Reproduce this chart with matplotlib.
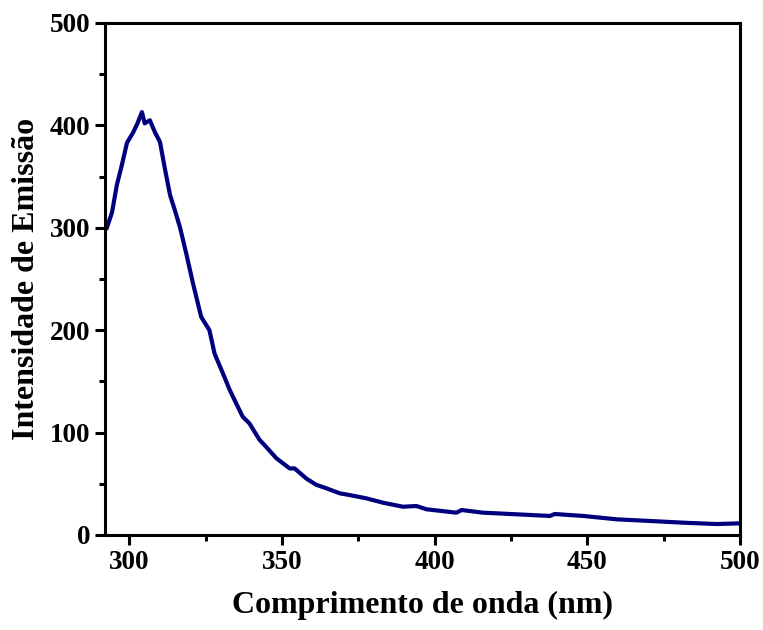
import matplotlib.pyplot as plt
import numpy as np

# Espectro de emissão
comprimento = [292.6, 294.3, 295.9, 297.5, 299.2, 301.2, 302.5, 304.1, 305.0, 306.7,
               308.4, 310.0, 311.6, 313.3, 314.9, 316.6, 318.6, 320.8, 323.5, 326.2,
               327.9, 330.6, 332.8, 334.4, 337.1, 339.3, 342.6, 344.8, 348.1, 352.5,
               354.1, 358.0, 361.2, 364.5, 368.9, 372.1, 377.6, 383.1, 389.6, 394.0,
               397.3, 407.1, 408.8, 415.8, 426.8, 437.7, 439.3, 448.6, 459.6, 470.5,
               481.5, 492.4, 500.0]
intensidade = [300, 315, 342, 361, 383, 393, 401, 413, 402, 405,
               393, 384, 358, 332, 317, 300, 275, 246, 213, 200,
               177, 158, 142, 132, 115.5, 109, 93, 86, 75, 65,
               65, 55, 49, 45.6, 40.7, 39, 35.8, 31.5, 27.6, 28.3,
               25.1, 21.8, 24.4, 21.8, 20.2, 18.6, 20.5, 18.6, 15.3, 13.7,
               12, 10.7, 11.4]

plt.rcParams['font.family'] = ['Liberation Serif', 'DejaVu Serif']
plt.rcParams['font.weight'] = 'bold'

fig = plt.figure(figsize=(7.63, 6.3), dpi=100)
ax = fig.add_axes([0.1376, 0.1508, 0.8324, 0.8127])

ax.plot(comprimento, intensidade, color='#00007f', linewidth=3)

ax.set_xlim(292, 500)
ax.set_ylim(0, 500)
ax.set_xticks([300, 350, 400, 450, 500])
ax.set_xticks([325, 375, 425, 475], minor=True)
ax.set_yticks([0, 100, 200, 300, 400, 500])
ax.set_yticks([50, 150, 250, 350, 450], minor=True)

for s in ax.spines.values():
    s.set_linewidth(2.2)
ax.tick_params(which='major', direction='out', length=7, width=2.2, labelsize=19.5)
ax.tick_params(which='minor', direction='out', length=4, width=2.2)
for lab in ax.get_xticklabels() + ax.get_yticklabels():
    lab.set_fontweight('bold')

ax.set_xlabel('Comprimento de onda (nm)', fontsize=23, fontweight='bold', labelpad=12)
ax.set_ylabel('Intensidade de Emissão', fontsize=23, fontweight='bold', labelpad=6)

fig.savefig('out.png', dpi=100)
